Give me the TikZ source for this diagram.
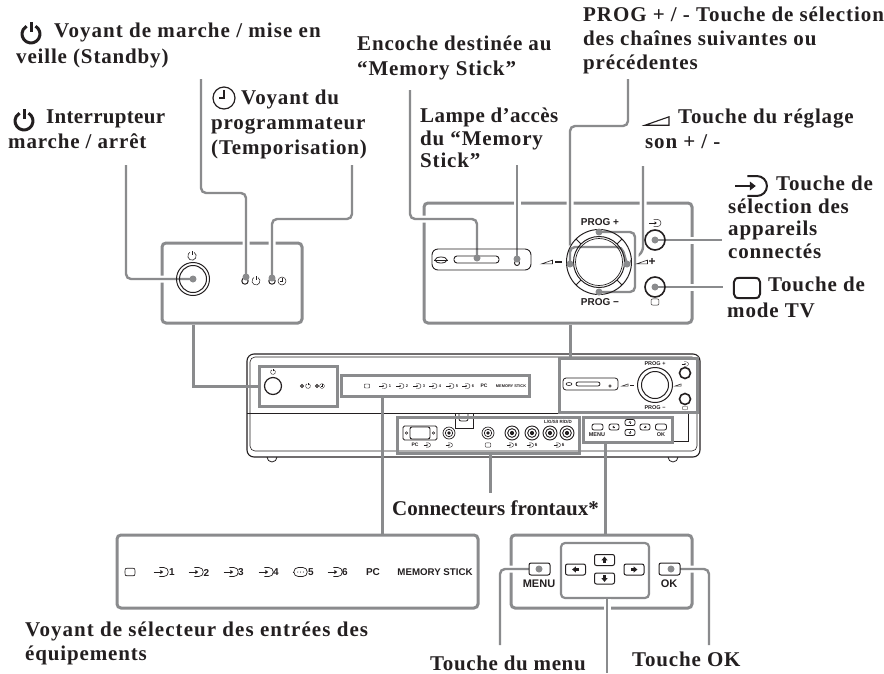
\documentclass[tikz,border=0pt]{standalone}
\usepackage{fontspec}
\setmainfont{Liberation Serif}[LetterSpace=4]
\newfontfamily\keyfont{Liberation Sans}
\definecolor{linegray}{HTML}{8A8B8D}
\definecolor{inkdark}{HTML}{231F20}

\begin{document}
\begin{tikzpicture}[x=1pt, y=-1pt, inner sep=0pt, color=inkdark,
    lbl/.style={anchor=north west, yshift=17pt, align=left, text=inkdark,
        font=\bfseries\fontsize{21}{#1}\selectfont,
        execute at begin node={\rule{0pt}{17pt}}},
    lbl/.default=25pt,
    panel/.style={draw=linegray, line width=3pt, rounded corners=4pt},
    mini/.style={draw=linegray, line width=3pt},
    link/.style={draw=linegray, line width=3pt},
    callout/.style={draw=linegray, line width=2.4pt, rounded corners=5pt,
        preaction={draw=white, line width=7pt}},
    dotend/.style={circle, fill=linegray, minimum size=7pt},
    keytext/.style={font=\keyfont\bfseries\fontsize{#1}{#1}\selectfont, text=inkdark},
    keytext/.default=10pt,
    keybtn/.style={draw=inkdark, line width=1pt, rounded corners=2pt, fill=white},
    roundbtn/.style={circle, draw=inkdark, line width=1.6pt},
    ico/.style={scale=#1, yscale=-1},
    pics/pwr/.style={code={\draw (60:1) arc (60:-240:1); \draw (0,0.25) -- (0,1.3);}},
    pics/inp/.style={code={\draw (-0.3,0.83) -- (0.5,0.83) arc (90:-90:0.83) -- (-0.3,-0.83);
        \draw (-1.33,0) -- (0.1,0); \fill (0.4,0) -- (-0.1,0.38) -- (-0.1,-0.38) -- cycle;}},
    pics/inb/.style={code={\draw (-0.3,0.83) -- (0.5,0.83) arc (90:-90:0.83) -- (-0.3,-0.83) arc (270:90:0.83);
        \draw (-1.33,0) -- (-1.1,0); \fill (-0.4,0) circle (0.1) (0.1,0) circle (0.1) (0.6,0) circle (0.1);}},
    pics/tmr/.style={code={\draw (0,0) circle (1); \draw (0,0.75) -- (0,0) -- (-0.5,0);}},
    pics/tvi/.style={code={\draw (-1.1,0) .. controls (-1.1,-0.9) and (-1.1,-0.85) .. (0,-0.85)
        .. controls (1.1,-0.85) and (1.1,-0.9) .. (1.1,0)
        .. controls (1.1,0.9) and (1.1,0.85) .. (0,0.85)
        .. controls (-1.1,0.85) and (-1.1,0.9) .. (-1.1,0) -- cycle;}},
    pics/vol/.style={code={\draw (-1,-0.35) -- (1,0.35) -- (1,-0.35) -- cycle;}},
    pics/arw/.style={code={\fill (1,0) -- (-0.1,0.9) -- (-0.1,-0.9) -- cycle; \fill (-0.1,-0.3) rectangle (-0.9,0.3);}},
    pics/jack/.style={code={\draw (0,0) circle (1); \draw (0,0) circle (0.62); \fill (0,0) circle (0.3);}}]
    \useasboundingbox (0,0) rectangle (884,673);

    % --- Device ---
    \draw[line width=1.1pt, rounded corners=7pt] (247,354) rectangle (700,457);
    \draw[line width=0.6pt, rounded corners=5pt] (250,357) rectangle (697,451);
    \draw[line width=0.7pt] (247,413) -- (559,413);
    \draw[line width=0.7pt] (688,412) -- (688,441) -- (672,441);
    \draw[line width=0.8pt] (267,457) arc (180:0:5);
    \draw[line width=0.8pt] (668,457) arc (180:0:5);
    \draw[line width=0.8pt] (455,413) -- (455,428) -- (473,428) -- (473,413);
    \draw[line width=0.8pt, rounded corners=2pt] (459,413) -- (459,421) -- (468,421) -- (468,413);

    % --- Panels ---
    \node[panel, minimum width=140pt, minimum height=80pt] (panelPower) at (232,283) {};
    \node[panel, minimum width=268pt, minimum height=120pt] (panelFront) at (558,263) {};
    \node[panel, minimum width=361pt, minimum height=73pt] (panelSel) at (297.5,571.5) {};
    \node[panel, minimum width=181pt, minimum height=73pt] (panelMenu) at (601.5,571.5) {};
    \node[panel, draw, line width=2.2pt, minimum width=88pt, minimum height=55pt] (arrowBox) at (605,570.5) {};
    \node[mini, minimum width=78pt, minimum height=40pt] (miniPower) at (298,386) {};
    \node[mini, minimum width=138pt, minimum height=54pt] (miniFront) at (628,385) {};
    \node[mini, minimum width=188pt, minimum height=21pt] (miniSel) at (435,385.5) {};
    \node[mini, minimum width=182pt, minimum height=36pt] (miniConn) at (488,435) {};
    \node[mini, minimum width=89pt, minimum height=25pt] (miniMenu) at (627.5,429.5) {};

    % --- Labels ---
    \node[lbl=26pt] (lblStandby) at (16,40) {\addfontfeature{LetterSpace=5}\hspace*{38pt}Voyant de marche / mise en\\veille (Standby)};
    \node[lbl] (lblSwitch) at (8,127) {\addfontfeature{LetterSpace=1.5}\hspace*{38pt}Interrupteur\\marche / arrêt};
    \node[lbl] (lblTimer) at (211,107) {\hspace*{30pt}Voyant du\\programmateur\\(Temporisation)};
    \node[lbl] (lblSlot) at (357,53) {Encoche destinée au\\“Memory Stick”};
    \node[lbl=22.5pt] (lblLamp) at (420,125) {\addfontfeature{LetterSpace=2}Lampe d’accès\\du “Memory\\Stick”};
    \node[lbl=24pt] (lblProg) at (583,24) {\addfontfeature{LetterSpace=4.4}PROG + / - Touche de sélection\\des chaînes suivantes ou\\précédentes};
    \node[lbl] (lblVol) at (645,126) {\hspace*{33pt}Touche du réglage\\son + / -};
    \node[lbl=22.5pt] (lblInput) at (728,193) {\hspace*{48pt}Touche de\\sélection des\\appareils\\connectés};
    \node[lbl=26pt] (lblTv) at (727,294) {\hspace*{41pt}Touche de\\mode TV};
    \node[lbl] (lblConn) at (392,515) {\addfontfeature{LetterSpace=0}Connecteurs frontaux*};
    \node[lbl=24pt] (lblSel) at (25,639) {\addfontfeature{LetterSpace=5}Voyant de sélecteur des entrées des\\équipements};
    \node[lbl] (lblMenu) at (430,670) {\addfontfeature{LetterSpace=3}Touche du menu};
    \node[lbl] (lblOk) at (632,666) {Touche OK};

    % --- Label icons ---
    \pic[ico=9, line width=3pt] at (31,34) {pwr};
    \pic[ico=9, line width=3pt] at (24,121) {pwr};
    \pic[ico=11, line width=1.2pt] at (224,98) {tmr};
    \pic[ico=12, line width=1.1pt] at (657,121) {vol};
    \pic[ico=12, line width=2pt] at (751,186) {inp};
    \pic[ico=12, line width=2pt] at (747,288) {tvi};

    % --- Connector ends ---
    \coordinate (endStandby) at (201,79);
    \coordinate (endSwitch) at (126,165);
    \coordinate (endTimer) at (352,165);
    \coordinate (endSlot) at (410,90);
    \coordinate (endLamp) at (517,165);
    \coordinate (endProg) at (628,79);
    \coordinate (endVol) at (643,166);
    \coordinate (endInput) at (722,240);
    \coordinate (endTv) at (723,287);
    \coordinate (endConn) at (490,493);
    \coordinate (endMenu) at (500,645);
    \coordinate (endOk) at (709,645);
    \coordinate (endArrows) at (607,673);
    \coordinate (linkSel) at (382,465);
    \coordinate (linkMenu) at (605,465);
    \coordinate (swDial) at (193,279);
    \coordinate (ledA) at (246,277);
    \coordinate (ledB) at (272,278);
    \coordinate (slotDot) at (477,258);
    \coordinate (lampDot) at (517,259);
    \coordinate (volMinus) at (570,264);
    \coordinate (volPlus) at (627,264);
    \coordinate (progUp) at (599,232);
    \coordinate (progDown) at (599,292);
    \coordinate (volArc) at (622,247);
    \coordinate (bracket) at (635,262);
    \coordinate (btnInput) at (655,240);
    \coordinate (btnTv) at (655,287);
    \coordinate (menuBtn) at (539,569);
    \coordinate (okBtn) at (671,569);

    % --- Links between device and panels ---
    \draw[link] (panelPower.south -| swDial) |- (miniPower.west);
    \draw[link] (panelFront.south -| volMinus) -- (miniFront.north -| volMinus);
    \draw[link] (miniSel.south -| linkSel) -- (panelSel.north -| linkSel);
    \draw[link] (miniMenu.south -| linkMenu) -- (panelMenu.north -| linkMenu);
    \draw[link] (miniConn.south -| endConn) -- (endConn);

    % --- Callouts ---
    \draw[callout] (endStandby) -- +(0,114) -| (ledA);
    \draw[callout] (endSwitch) |- (swDial);
    \draw[callout] (endTimer) -- +(0,54) -| (ledB);
    \draw[callout] (endSlot) -- +(0,129) -| (slotDot);
    \draw[callout] (endLamp) -- (lampDot);
    \draw[callout] (endProg) -- +(0,47) -| (volMinus);
    \draw[callout] (endVol) -- +(0,86) -- (volPlus);
    \draw[callout] (volMinus) |- (volArc) -- (volPlus);
    \draw[callout] (progUp) -| (bracket) |- (progDown);
    \draw[callout] (btnInput) -- (endInput);
    \draw[callout] (btnTv) -- (endTv);
    \draw[callout] (menuBtn) -| (endMenu);
    \draw[callout] (okBtn) -| (endOk);
    \draw[callout] (arrowBox.south -| endArrows) -- (endArrows);

    % --- Power panel ---
    \draw[line width=1pt] (193,279) circle (16.5);
    \draw[line width=1pt] (193,279) circle (13.5);
    \pic[ico=4.2, line width=0.6pt] at (192,256) {pwr};
    \draw[line width=1pt] (245,281) circle (3.2);
    \pic[ico=4, line width=0.5pt] at (256,281) {pwr};
    \draw[line width=1pt] (272,281) circle (3.2);
    \pic[ico=4, line width=0.5pt] at (282,281) {tmr};

    % --- Front panel ---
    \draw[line width=0.9pt, rounded corners=6pt] (432,249) rectangle (531,270);
    \draw[line width=0.9pt, rounded corners=3pt] (454,256) rectangle (499,263);
    \draw[line width=0.8pt] (441,260) ellipse (6 and 3);
    \draw[line width=0.8pt] (434,260) -- (448,260);
    \draw[line width=0.9pt] (517,263) circle (2.5);
    \draw[line width=1pt] (599,262) circle (32.5);
    \draw[line width=1pt] (599,262) circle (25.5);
    \draw[line width=0.7pt] (599,262) circle (23.5);
    \draw[line width=0.8pt] (617,244) -- (622,239);
    \draw[line width=0.8pt] (581,244) -- (576,239);
    \draw[line width=0.8pt] (617,280) -- (622,285);
    \draw[line width=0.8pt] (581,280) -- (576,285);
    \node[keytext=10pt] (progPlus) at (600,222) {PROG +};
    \node[keytext=10pt] (progMinus) at (600,302) {PROG −};
    \pic[ico=5.5, line width=0.6pt] at (547,262) {vol};
    \draw[line width=1.4pt] (555,262) -- (562,262);
    \pic[ico=5.5, line width=0.6pt] at (642,262) {vol};
    \node[keytext=12pt] (volSign) at (652,261.5) {+};
    \node[roundbtn, minimum size=20pt] (roundInput) at (655,240) {};
    \node[roundbtn, minimum size=20pt] (roundTv) at (655,287) {};
    \pic[ico=4.5, line width=0.5pt] at (655,223) {inp};
    \pic[ico=3.6, line width=0.5pt] at (655,302) {tvi};

    % --- Selector panel ---
    \pic[ico=4.5, line width=0.7pt] at (130,572) {tvi};
    \pic[ico=5.5, line width=0.7pt] at (161,572) {inp};
    \pic[ico=5.5, line width=0.7pt] at (196,572) {inp};
    \pic[ico=5.5, line width=0.7pt] at (231,572) {inp};
    \pic[ico=5.5, line width=0.7pt] at (266,572) {inp};
    \pic[ico=5.5, line width=0.7pt] at (300,572) {inb};
    \pic[ico=5.5, line width=0.7pt] at (335,572) {inp};
    \node[keytext=10pt] (selA) at (172,572.5) {1};
    \node[keytext=10pt] (selB) at (206.5,572.5) {2};
    \node[keytext=10pt] (selC) at (241,572.5) {3};
    \node[keytext=10pt] (selD) at (276,572.5) {4};
    \node[keytext=10pt] (selE) at (311,572.5) {5};
    \node[keytext=10pt] (selF) at (345,572.5) {6};
    \node[keytext=10pt] (selPc) at (373,572.5) {PC};
    \node[keytext=9.7pt] (selStick) at (435,572.5) {MEMORY STICK};

    % --- Menu panel ---
    \node[keybtn, minimum width=21pt, minimum height=12pt] (keyMenu) at (539.5,569) {};
    \node[keybtn, minimum width=21pt, minimum height=12pt] (keyOk) at (669.5,569) {};
    \node[keybtn, minimum width=20pt, minimum height=11pt] (keyLeft) at (575.5,569.5) {};
    \node[keybtn, minimum width=20pt, minimum height=11pt] (keyRight) at (634,569.5) {};
    \node[keybtn, minimum width=20pt, minimum height=11pt] (keyUp) at (604.5,560) {};
    \node[keybtn, minimum width=20pt, minimum height=11pt] (keyDown) at (604.5,578.5) {};
    \pic[ico=3.4, rotate=180] at (575.5,569.5) {arw};
    \pic[ico=3.4] at (634,569.5) {arw};
    \pic[ico=3.4, rotate=-90] at (604.5,560) {arw};
    \pic[ico=3.4, rotate=90] at (604.5,578.5) {arw};
    \node[keytext=11pt] (txtMenu) at (539,584) {MENU};
    \node[keytext=11pt] (txtOk) at (669,584) {OK};

    % --- Device details ---
    \draw[line width=1.2pt] (273,386) circle (8.5);
    \pic[ico=2.4, line width=0.4pt] at (273,372) {pwr};
    \draw[line width=0.9pt] (302,386) circle (1.5);
    \pic[ico=2.4, line width=0.4pt] at (308,386) {pwr};
    \draw[line width=0.9pt] (317,386) circle (1.5);
    \pic[ico=2.4, line width=0.3pt] at (322,386) {tmr};
    \pic[ico=2.4, line width=0.4pt] at (367,386) {tvi};
    \pic[ico=3, line width=0.4pt] at (383,386) {inp};
    \pic[ico=3, line width=0.4pt] at (400,386) {inp};
    \pic[ico=3, line width=0.4pt] at (417,386) {inp};
    \pic[ico=3, line width=0.4pt] at (433,386) {inp};
    \pic[ico=3, line width=0.4pt] at (450,386) {inp};
    \pic[ico=3, line width=0.4pt] at (466,386) {inp};
    \node[keytext=4pt] (miniDigA) at (390,386) {1};
    \node[keytext=4pt] (miniDigB) at (407,386) {2};
    \node[keytext=4pt] (miniDigC) at (424,386) {3};
    \node[keytext=4pt] (miniDigD) at (440,386) {4};
    \node[keytext=4pt] (miniDigE) at (457,386) {5};
    \node[keytext=4pt] (miniDigF) at (473,386) {6};
    \node[keytext=5pt] (miniPc) at (484,386) {PC};
    \node[keytext=3.9pt] (miniStick) at (511,386) {MEMORY STICK};
    \draw[line width=0.8pt, rounded corners=3pt] (563,378) rectangle (618,390);
    \draw[line width=0.8pt, rounded corners=2pt] (576,382) rectangle (600,386);
    \draw[line width=0.6pt] (569,384) ellipse (3 and 1.5);
    \draw[line width=0.6pt] (610,386) circle (1.2);
    \pic[ico=3, line width=0.5pt] at (625,385) {vol};
    \draw[line width=0.9pt] (630,385) -- (634,385);
    \pic[ico=3, line width=0.5pt] at (678,385) {vol};
    \draw[line width=1pt] (655,385) circle (17.5);
    \draw[line width=1pt] (655,385) circle (13.5);
    \node[keytext=5.5pt] (miniProgA) at (655,364) {PROG +};
    \node[keytext=5.5pt] (miniProgB) at (655,408) {PROG −};
    \node[roundbtn, minimum size=11pt] (miniRoundA) at (685,373) {};
    \node[roundbtn, minimum size=11pt] (miniRoundB) at (685,399) {};
    \pic[ico=2.6, line width=0.3pt] at (685,364) {inp};
    \pic[ico=2.2, line width=0.3pt] at (685,408) {tvi};
    \draw[line width=0.9pt, rounded corners=1.5pt] (403,426) rectangle (437,440);
    \draw[line width=0.9pt, rounded corners=2pt] (410,427) rectangle (430,439);
    \draw[line width=0.6pt] (406.5,433) circle (1.3);
    \draw[line width=0.6pt] (433.5,433) circle (1.3);
    \pic[ico=6, line width=0.7pt] at (449,433) {jack};
    \pic[ico=6, line width=0.7pt] at (488,433) {jack};
    \pic[ico=7, line width=0.9pt] at (512,433) {jack};
    \pic[ico=7, line width=0.9pt] at (532,433) {jack};
    \pic[ico=7, line width=0.9pt] at (550,433) {jack};
    \pic[ico=7, line width=0.9pt] at (567,433) {jack};
    \node[keytext=5pt] (txtPc) at (415,445) {PC};
    \pic[ico=2.6, line width=0.4pt] at (427,445) {inp};
    \pic[ico=2.6, line width=0.4pt] at (449,445) {inp};
    \pic[ico=2.6, line width=0.4pt] at (488,445) {tvi};
    \pic[ico=2.6, line width=0.4pt] at (510,445) {inp};
    \pic[ico=2.6, line width=0.4pt] at (530,445) {inp};
    \pic[ico=2.6, line width=0.4pt] at (557,445) {inp};
    \node[keytext=4.5pt] (txtSix) at (516,445) {6};
    \node[keytext=4.5pt] (txtSixB) at (536,445) {6};
    \node[keytext=4.5pt] (txtSixC) at (563,445) {6};
    \node[keytext=4.5pt] (txtAudio) at (558,422) {L/G/S/I R/D/D};
    \node[keybtn, line width=0.8pt, minimum width=11pt, minimum height=6pt] (miniKeyMenu) at (597.5,427) {};
    \node[keybtn, line width=0.8pt, minimum width=11pt, minimum height=6pt] (miniKeyOk) at (661,427) {};
    \node[keybtn, line width=0.8pt, minimum width=10pt, minimum height=6pt] (miniKeyLeft) at (614,427) {};
    \node[keybtn, line width=0.8pt, minimum width=10pt, minimum height=6pt] (miniKeyRight) at (645,427) {};
    \node[keybtn, line width=0.8pt, minimum width=10pt, minimum height=6pt] (miniKeyUp) at (630,422.5) {};
    \node[keybtn, line width=0.8pt, minimum width=10pt, minimum height=6pt] (miniKeyDown) at (630,432.5) {};
    \pic[ico=1.6, rotate=180] at (614,427) {arw};
    \pic[ico=1.6] at (645,427) {arw};
    \pic[ico=1.6, rotate=-90] at (630,422.5) {arw};
    \pic[ico=1.6, rotate=90] at (630,432.5) {arw};
    \node[keytext=5.5pt] (miniTxtMenu) at (597,435) {MENU};
    \node[keytext=5.5pt] (miniTxtOk) at (661,435) {OK};

    % --- Dots ---
    \node[dotend] (dotSwitch) at (swDial) {};
    \node[dotend] (dotLedA) at (ledA) {};
    \node[dotend] (dotLedB) at (ledB) {};
    \node[dotend] (dotSlot) at (slotDot) {};
    \node[dotend] (dotLamp) at (lampDot) {};
    \node[dotend] (dotVolMinus) at (volMinus) {};
    \node[dotend] (dotVolPlus) at (volPlus) {};
    \node[dotend] (dotProgUp) at (progUp) {};
    \node[dotend] (dotProgDown) at (progDown) {};
    \node[dotend] (dotInput) at (btnInput) {};
    \node[dotend] (dotTv) at (btnTv) {};
    \node[dotend] (dotMenu) at (menuBtn) {};
    \node[dotend] (dotOk) at (okBtn) {};
\end{tikzpicture}
\end{document}
